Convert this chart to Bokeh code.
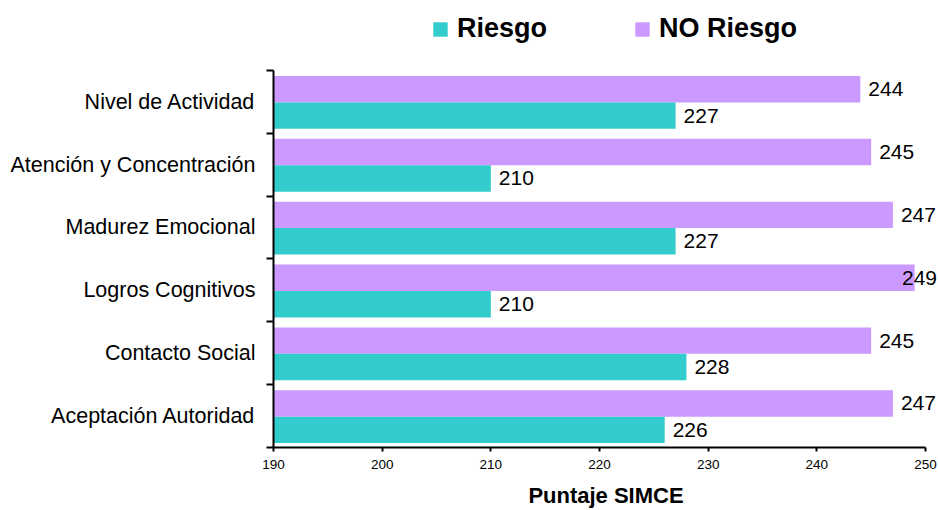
import numpy as np
from bokeh.plotting import figure
from bokeh.models import (ColumnDataSource, Range1d, FixedTicker, LabelSet,
                          Legend, LegendItem)
from bokeh.core.properties import value
from bokeh.embed import file_html
from bokeh.resources import INLINE

# ---- data (top to bottom as shown) ----
categorias = ["Nivel de Actividad", "Atención y Concentración", "Madurez Emocional",
              "Logros Cognitivos", "Contacto Social", "Aceptación Autoridad"]
riesgo = [227, 210, 227, 210, 228, 226]
no_riesgo = [244, 245, 247, 249, 245, 247]
x_ticks = [190, 200, 210, 220, 230, 240, 250]
serie_riesgo = "Riesgo"
serie_no_riesgo = "NO Riesgo"
titulo_x = "Puntaje SIMCE"

FONT = "Liberation Sans"
TEAL = "#33CCCC"
PURPLE = "#CC99FF"

n = len(categorias)
centros = np.arange(n)[::-1]          # top category gets the highest position
x0, x1 = x_ticks[0], x_ticks[-1]

# layout (pixels)
W, H = 938, 510
LEFT, LAST_TICK = 273, 925            # axis line x / x of the last tick
TOP, BOTTOM = 70, 448                 # top of the y axis / x axis line
# the frame covers the whole canvas above the x axis and right of the y axis,
# so that value labels and the legend are not clipped; the axes are bounded.
x_end = x0 + (W - LEFT) / (LAST_TICK - LEFT) * (x1 - x0)
y_end = (n - 0.5) + TOP / ((BOTTOM - TOP) / n)

src = ColumnDataSource(dict(
    cat=categorias,
    yr=centros - 0.22,
    yn=centros + 0.20,
    riesgo=riesgo,
    no_riesgo=no_riesgo,
    # keep labels within the chart area (as the original does for the longest bar)
    lx_r=np.minimum(np.array(riesgo, dtype=float), x1 - 2.9),
    lx_n=np.minimum(np.array(no_riesgo, dtype=float), x1 - 2.9),
    tr=[str(v) for v in riesgo],
    tn=[str(v) for v in no_riesgo],
))

p = figure(width=W, height=H, output_backend="svg", toolbar_location=None,
           x_range=Range1d(x0, x_end), y_range=Range1d(-0.5, y_end),
           min_border_left=LEFT, min_border_right=0, min_border_top=0,
           min_border_bottom=H - BOTTOM)
p.outline_line_color = None
p.xgrid.grid_line_color = None
p.ygrid.grid_line_color = None
p.background_fill_color = "white"

r_n = p.hbar(y="yn", left=x0, right="no_riesgo", height=0.42, source=src,
             fill_color=PURPLE, line_color=None)
r_r = p.hbar(y="yr", left=x0, right="riesgo", height=0.42, source=src,
             fill_color=TEAL, line_color=None)

for xcol, ycol, tcol in [("lx_n", "yn", "tn"), ("lx_r", "yr", "tr")]:
    p.add_layout(LabelSet(x=xcol, y=ycol, text=tcol, source=src, x_offset=8,
                          text_baseline="middle", text_align="left",
                          text_font=value(FONT), text_font_size=value("21px"),
                          text_color="black"))

# x axis
xa = p.xaxis[0]
xa.ticker = FixedTicker(ticks=x_ticks)
xa.bounds = (x0, x1)
xa.axis_line_width = 2
xa.axis_line_color = "black"
xa.major_tick_line_width = 2
xa.major_tick_out = 4
xa.major_tick_in = 0
xa.minor_tick_line_color = None
xa.major_label_text_font = FONT
xa.major_label_text_font_size = "13.5px"
xa.major_label_text_color = "black"
xa.major_label_standoff = 8
xa.axis_label = titulo_x
xa.axis_label_text_font = FONT
xa.axis_label_text_font_size = "22px"
xa.axis_label_text_font_style = "bold"
xa.axis_label_text_color = "black"
xa.axis_label_standoff = 11

# y axis: labels at category centres, ticks at category boundaries
ya = p.yaxis[0]
ya.ticker = FixedTicker(ticks=list(range(n)),
                        minor_ticks=list(np.arange(n + 1) - 0.5))
ya.bounds = (-0.5, n - 0.5)
ya.major_label_overrides = {int(c): cat for c, cat in zip(centros, categorias)}
ya.axis_line_width = 2
ya.axis_line_color = "black"
ya.major_tick_out = 0
ya.major_tick_in = 0
ya.minor_tick_out = 7
ya.minor_tick_in = 0
ya.minor_tick_line_width = 2
ya.minor_tick_line_color = "black"
ya.major_label_text_font = FONT
ya.major_label_text_font_size = "21.5px"
ya.major_label_text_color = "black"
ya.major_label_standoff = 11

legend = Legend(items=[LegendItem(label=serie_riesgo, renderers=[r_r]),
                       LegendItem(label=serie_no_riesgo, renderers=[r_n])],
                orientation="horizontal", location=(431 - LEFT, BOTTOM - 45),
                glyph_width=18, glyph_height=18, label_standoff=8, spacing=86,
                padding=0, margin=0, border_line_color=None,
                background_fill_alpha=0,
                label_text_font=FONT, label_text_font_size="27px",
                label_text_font_style="bold", label_text_color="black")
p.add_layout(legend)

open("out.html", "w").write(file_html(p, INLINE))
